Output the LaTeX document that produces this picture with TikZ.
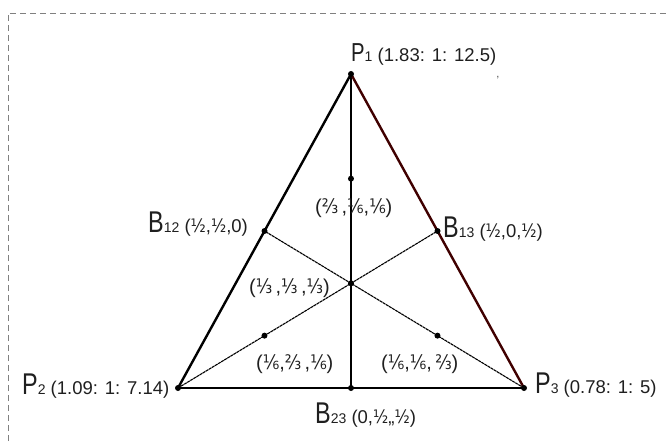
\documentclass[tikz,border=0pt]{standalone}
\usepackage{fontspec}
\setmainfont{Liberation Sans}
\newfontfamily\bigfont{Liberation Sans}[FakeStretch=0.78]
\newfontfamily\fracfont{DejaVu Sans}[FakeStretch=0.85]
\newcommand{\Fh}{{\fracfont ½}}
\newcommand{\Ft}{{\fracfont ⅓}}
\newcommand{\Ftt}{{\fracfont ⅔}}
\newcommand{\Fs}{{\fracfont ⅙}}
\newcommand{\BigL}[2]{{\fontsize{#1}{#1}\bigfont #2}}
\newcommand{\SubL}[1]{{\fontsize{14}{14}\selectfont #1}}
\usetikzlibrary{calc}
\begin{document}
\begin{tikzpicture}[x=1pt,y=-1pt,
  tri/.style={line width=2.4pt,black},
  med/.style={line width=1.3pt,black},
  thinmed/.style={line width=1.1pt,black,dash pattern=on 3pt off 0.6pt},
  dot/.style={circle,fill=black,inner sep=0pt,minimum size=6pt},
  lab/.style={inner sep=0pt,text=black!88,font=\fontsize{18.5}{18.5}\selectfont},
  frac/.style={inner sep=0pt,text=black!88,font=\fontsize{20}{20}\selectfont},
  frame/.style={draw=black!50,line width=0.9pt,dash pattern=on 6pt off 4pt}]
\useasboundingbox (0,0) rectangle (668,441);
\draw[frame] (8,441) -- (8,13) -- (668,13);
% vertices
\coordinate (p1) at (351,74);
\coordinate (p2) at (178,388);
\coordinate (p3) at (524,388);
\coordinate (b12) at ($(p1)!0.5!(p2)$);
\coordinate (b13) at ($(p1)!0.5!(p3)$);
\coordinate (b23) at ($(p2)!0.5!(p3)$);
\coordinate (c) at (barycentric cs:p1=1,p2=1,p3=1);
\coordinate (m1) at (barycentric cs:p1=4,p2=1,p3=1);
\coordinate (m2) at (barycentric cs:p1=1,p2=4,p3=1);
\coordinate (m3) at (barycentric cs:p1=1,p2=1,p3=4);
% medians
\draw[med] (p1) -- (b23);
\draw[thinmed] (p2) -- (b13);
\draw[thinmed] (p3) -- (b12);
% triangle
\draw[tri,line join=miter] (p2) -- (p1);
\draw[tri,draw=black!75!red] (p1) -- (p3);
\draw[tri] (p2) -- (p3);
% dots
\foreach \n in {p1,p2,p3,b12,b13,b23,c,m1,m2,m3}
  \node[dot] (d\n) at (\n) {};
% labels
\node[lab,anchor=base west] (lp1) at (351,62)
  {\BigL{26}{P}\SubL{1} (1.83: 1: 12.5)};
\node[inner sep=0pt,font=\fontsize{11}{11}\selectfont,text=black!70] (comma) at (498,78) {,};
\node[lab,anchor=base west] (lp2) at (22,394)
  {\BigL{30}{P}\SubL{2} (1.09: 1: 7.14)};
\node[lab,anchor=base west] (lp3) at (535,393)
  {\BigL{30}{P}\SubL{3} (0.78: 1: 5)};
\node[lab,anchor=base west] (lb12) at (148,232)
  {\BigL{30}{B}\SubL{12} (\Fh,\Fh,0)};
\node[lab,anchor=base west] (lb13) at (443,237)
  {\BigL{30}{B}\SubL{13} (\Fh,0,\Fh)};
\node[lab,anchor=base west] (lb23) at (315,423)
  {\BigL{30}{B}\SubL{23} (0,\Fh,,\Fh)};
\node[frac,anchor=base west] (lm1) at (315,213) {(\Ftt\,,\Fs,\Fs)};
\node[frac,anchor=base west] (lc) at (249,293) {(\Ft\,,\Ft\,,\Ft)};
\node[frac,anchor=base west] (lm2) at (256,369) {(\Fs,\Ftt\,,\Fs)};
\node[frac,anchor=base west] (lm3) at (381,369) {(\Fs,\Fs,\,\Ftt)};
\end{tikzpicture}
\end{document}
